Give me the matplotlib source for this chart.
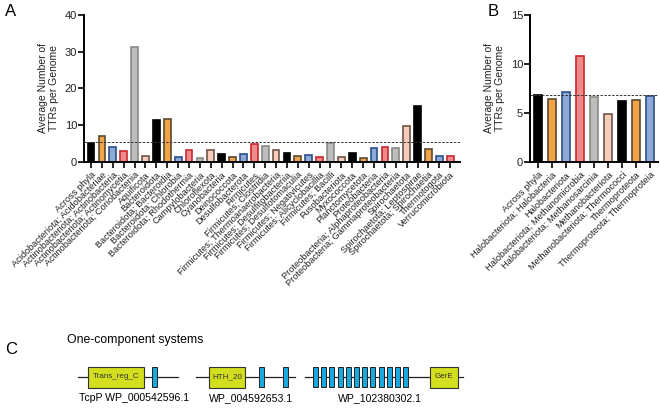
import matplotlib
matplotlib.use('Agg')
import matplotlib.pyplot as plt
from matplotlib.patches import Rectangle
import numpy as np

plt.rcParams['font.family'] = ['Liberation Sans', 'DejaVu Sans']

# panel A data
phyla_a = ['Across phyla', 'Acidobacteriota; Acidobacteriae', 'Actinobacteriota; Actinobacteria',
           'Actinobacteriota; Actinomycetia', 'Actinobacteriota; Coriobacteriia', 'Aquificota',
           'Bacteroidota', 'Bacteroidota; Bacteroidia', 'Bacteroidota; Chlorobia',
           'Bacteroidota; Rhodothermia', 'Campylobacteria', 'Chloroflexota', 'Cyanobacteria',
           'Deinococcota', 'Desulfobacterota', 'Firmicutes', 'Firmicutes; Clostridia',
           'Firmicutes; Thermoanaerobacteria', 'Firmicutes; Desulfitobacteriia',
           'Firmicutes; Desulfotomaculia', 'Firmicutes; Negativicutes', 'Firmicutes; Alicyclobacillia',
           'Firmicutes; Bacilli', 'Fusobacteriota', 'Myxococcota', 'Planctomycetota',
           'Proteobacteria', 'Proteobacteria; Alphaproteobacteria', 'Proteobacteria; Gammaproteobacteria',
           'Spirochaetota', 'Spirochaetota; Leptospirae', 'Spirochaetota; Spirochaetia',
           'Thermotogota', 'Verrucomicrobiota']
ttr_a = [5.3, 7.1, 4.2, 3.1, 31.4, 1.5, 11.4, 11.7, 1.3, 3.4, 1.0, 3.3, 2.2, 1.4,
         2.1, 5.0, 4.4, 3.3, 2.4, 1.7, 1.9, 1.4, 5.3, 1.4, 2.4, 1.2, 3.8, 4.0, 3.8,
         9.7, 15.3, 3.6, 1.5, 1.7]
mean_a = 5.4

# panel B data
phyla_b = ['Across phyla', 'Halobacteriota; Halobacteria', 'Halobacteriota',
           'Halobacteriota; Methanomicrobia', 'Halobacteriota; Methanosarcinia',
           'Methanobacteriota', 'Methanobacteriota; Thermococci', 'Thermoproteota',
           'Thermoproteota; Thermoproteia']
ttr_b = [6.8, 6.45, 7.1, 10.8, 6.6, 4.9, 6.25, 6.35, 6.7]
mean_b = 6.8

# panel C: protein names and domain layouts (pixel schematic)
gene_names = ['TcpP WP_000542596.1', 'WP_004592653.1', 'WP_102380302.1']
gene_lines = [(78, 178), (196, 295), (305, 463)]
gene_label_x = [134, 251, 380]
gene_domains = [[(88, 56, 'Trans_reg_C')], [(209, 36, 'HTH_20')], [(430, 28, 'GerE')]]
gene_tms = [[152], [259, 283], list(313 + 8.2 * np.arange(12))]

fills = ['#000000', '#F2A345', '#8EA9D6', '#EE8A8A', '#BDBDBD', '#F6CDBA']
edges = ['#000000', '#5A4A30', '#2B4F8A', '#C8282D', '#8A8A84', '#6E5548']

W, H = 660, 408
fig = plt.figure(figsize=(6.6, 4.08), dpi=100)


def bar_panel(rect, names, vals, mean, ymax, yticks, xlim):
    l, t, r, b = rect
    ax = fig.add_axes([l / W, 1 - b / H, (r - l) / W, (b - t) / H])
    x = np.arange(len(vals))
    fc = [fills[i % 6] for i in x]
    ec = [edges[i % 6] for i in x]
    ax.bar(x, vals, width=0.62, color=fc, edgecolor=ec, linewidth=1.2)
    ax.axhline(mean, color='#333333', lw=0.7, dashes=(2.5, 1.5))
    ax.set_xlim(*xlim)
    ax.set_ylim(0, ymax)
    ax.set_yticks(yticks)
    ax.set_xticks(x)
    ax.set_xticklabels(names, rotation=45, ha='right', rotation_mode='anchor', fontsize=6.7,
                       color='#222222')
    ax.tick_params(axis='y', labelsize=8, length=4, width=1.2, direction='out', pad=1,
                   labelcolor='#222222')
    ax.tick_params(axis='x', length=4, width=1.2, direction='out', pad=2)
    for s in ['top', 'right']:
        ax.spines[s].set_visible(False)
    for s in ['left', 'bottom']:
        ax.spines[s].set_linewidth(1.4)
    ax.set_ylabel('Average Number of\nTTRs per Genome', fontsize=7.5, linespacing=1.1,
                  labelpad=4, color='#222222')
    return ax


axA = bar_panel((84, 15, 460, 162), phyla_a, ttr_a, mean_a, 40, [0, 10, 20, 30, 40], (-0.65, 33.9))
axB = bar_panel((530, 15, 658, 162), phyla_b, ttr_b, mean_b, 15, [0, 5, 10, 15], (-0.57, 8.57))

fig.text(5 / W, 1 - 12 / H, 'A', fontsize=12, va='center')
fig.text(488 / W, 1 - 12 / H, 'B', fontsize=12, va='center')
fig.text(5 / W, 1 - 350 / H, 'C', fontsize=12, va='center')

# panel C drawn in pixel space
axC = fig.add_axes([0, 0, 1, 1])
axC.set_xlim(0, W)
axC.set_ylim(H, 0)
axC.axis('off')
axC.set_zorder(-1)
axC.text(67, 340, 'One-component systems', fontsize=8.8, va='center', ha='left')

row_y = 377
for name, (xa, xb), lx, doms, tms in zip(gene_names, gene_lines, gene_label_x, gene_domains, gene_tms):
    axC.plot([xa, xb], [row_y, row_y], color='#222222', lw=0.9, zorder=2)
    for dx, dw, lab in doms:
        axC.add_patch(Rectangle((dx, row_y - 10.5), dw, 21, facecolor='#D2DE1E',
                                edgecolor='#333333', lw=0.8, zorder=3))
        axC.text(dx + dw / 2, row_y, lab, fontsize=5.8, ha='center', va='center',
                 color='#333333', zorder=4)
    for tx in tms:
        axC.add_patch(Rectangle((tx, row_y - 10), 5, 20, facecolor='#19A9E1',
                                edgecolor='#222222', lw=0.7, zorder=3))
    axC.text(lx, 398, name, fontsize=7.6, ha='center', va='center')

fig.savefig('out.png', dpi=100)
